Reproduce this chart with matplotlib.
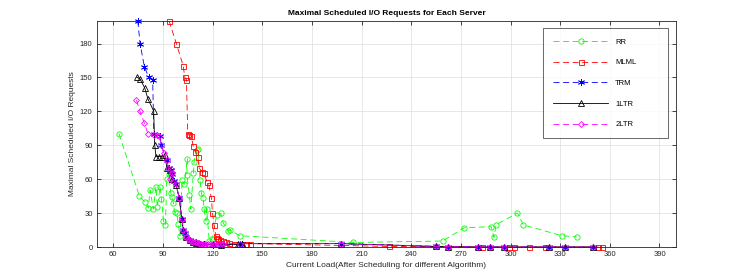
import matplotlib
matplotlib.use("Agg")
import matplotlib.pyplot as plt

plt.rcParams['font.family'] = ['Liberation Sans', 'DejaVu Sans']
plt.rcParams['lines.scale_dashes'] = False

rr_x = [63.5, 75.8, 79.2, 81.2, 82.2, 84.2, 85.8, 86.6, 88.3, 89.1, 90.3, 91.5, 92.3, 93.5, 94.7, 95.5,
        96.3, 97.0, 98.3, 99.3, 100.3, 101.5, 102.8, 104.8, 104.4, 106.0, 106.8, 108.4, 108.8, 110.4,
        111.2, 112.4, 113.2, 114.4, 114.8, 116.0, 116.4, 118.0, 119.5, 122.5, 124.9, 126.5, 129.5,
        130.5, 136.3, 205.0, 259.0, 272.0, 288.3, 290.0, 291.3, 304.2, 307.8, 331.0, 340.0]
rr_y = [100, 45, 39.5, 34.5, 50.5, 33.6, 53.5, 35.5, 53.4, 42.5, 23.3, 19.5, 60, 65, 48, 44,
        39, 31, 30, 20, 10, 59, 55.5, 78, 64, 46, 33.6, 65.2, 75.5, 85.8,
        86.7, 59.3, 47.5, 43, 34, 23.3, 34, 5, 7, 28.3, 29.8, 21, 14.4,
        15, 10, 4, 5.3, 17, 18, 8.6, 19.8, 30, 19.5, 10, 9]

mlml_x = [93.7, 98.1, 102.3, 103.2, 104.2, 105.0, 106.0, 107.2, 108.2, 109.6, 111.0, 112.0, 113.6,
          114.8, 116.5, 117.7, 119.3, 119.9, 120.9, 121.9, 122.5, 123.5, 124.5, 126.0, 128.0, 130.0,
          133.0, 137.0, 140.0, 142.7, 226.8, 283.0, 299.0, 302.0, 311.3, 321.0, 352.8, 355.2]
mlml_y = [200, 180, 160, 150, 148, 100, 98.8, 98, 89.5, 84.4, 80, 69.6, 66.7,
          65.2, 57.8, 54.9, 43, 30.4, 19.5, 9.7, 8, 7, 6, 5, 4, 3.5,
          3, 3, 2.8, 3, 0.5, 0, 0, 0, 0, 0, 0, 0]

trm_x = [74.8, 76.2, 78.8, 81.4, 83.8, 84.5, 88.3, 88.9, 92.3, 93.5, 95.0, 95.7, 96.7, 97.9, 99.9,
         101.4, 102.3, 103.2, 104.2, 106.2, 108.2, 110.2, 112.2, 115.0, 120.0, 125.0, 136.6, 137.6,
         197.7, 255.0, 262.0, 280.6, 287.7, 296.2, 323.0, 333.0, 350.0]
trm_y = [200, 179.6, 159.5, 150.2, 147.8, 100, 98, 90.3, 77, 70, 68, 65, 58, 55.5, 43,
         24.8, 15, 12, 9, 6, 4.7, 4, 3, 2.5, 2.2, 2, 2.5, 3,
         3, 0.5, 0.3, 0, 0, 0, 0, 0, 0]

ltr1_x = [74.2, 76.2, 79.0, 81.0, 84.4, 85.0, 85.8, 87.8, 89.3, 91.3, 92.3, 94.0, 95.7, 97.9, 99.9,
          101.4, 102.3, 104.2, 106.2, 108.2, 110.2, 112.2, 115.0, 120.0, 125.0, 135.6, 137.6,
          197.7, 255.0, 262.0, 280.6, 287.7, 296.2, 323.0, 333.0, 350.0]
ltr1_y = [150.2, 148.7, 140.7, 130.7, 120.4, 90.6, 80, 80, 80, 81.4, 70, 68, 60, 55, 43,
          25, 15, 9, 6, 4.7, 3.5, 2.8, 2.5, 2.3, 2, 2.5, 3,
          3, 0.5, 0.3, 0, 0, 0, 0, 0, 0]

ltr2_x = [74.0, 76.0, 78.8, 81.0, 84.8, 86.3, 87.8, 88.9, 90.5, 92.3, 93.3, 94.2, 95.0, 95.7, 96.7,
          97.9, 99.9, 101.4, 102.3, 103.2, 104.2, 105.2, 106.2, 107.2, 108.2, 109.2, 110.2, 111.2,
          112.2, 113.2, 114.0, 115.5, 117.0, 118.5, 120.0, 121.5, 123.0, 124.5, 126.0, 136.6,
          197.7, 255.0, 262.0, 280.6, 287.7, 296.2, 323.0, 333.0, 350.0]
ltr2_y = [130, 120.6, 109.5, 100, 98.9, 99, 98.2, 90.3, 83, 77, 70, 60, 68.8, 65.2, 57.8,
          55.5, 43, 24.8, 15, 12, 9, 7.5, 6.2, 5.5, 4.7, 4.3, 4, 3.5,
          3, 2.8, 2.5, 2.5, 2.5, 2.5, 2.5, 2.5, 2.5, 2.5, 2.5, 3,
          3, 0.5, 0.3, 0, 0, 0, 0, 0, 0]

x_ticks = list(range(60, 391, 30))
y_ticks = list(range(0, 181, 30))

fig = plt.figure(figsize=(7.47, 2.78), dpi=100)
ax = fig.add_axes([0.1295, 0.1115, 0.7755, 0.813])

dash = (0, (4.3, 2.6))
lw = 0.6
kw = dict(markerfacecolor='none', linewidth=lw, markeredgewidth=0.6, clip_on=False)
ax.plot(rr_x, rr_y, linestyle=dash, color='#00ff00', marker='o', markersize=3.8, label='RR', **kw)
ax.plot(mlml_x, mlml_y, linestyle=dash, color='#ff0000', marker='s', markersize=3.6, label='MLML', **kw)
ax.plot(trm_x, trm_y, linestyle=dash, color='#0000ff', marker=(6, 2, 0), markersize=5, label='TRM', **kw)
ax.plot(ltr1_x, ltr1_y, linestyle='-', color='#000000', marker='^', markersize=3.8, label='1LTR', **kw)
ax.plot(ltr2_x, ltr2_y, linestyle=dash, color='#ff00ff', marker='D', markersize=3.0, label='2LTR', **kw)

ax.set_xlim(50, 400)
ax.set_ylim(0, 200)
ax.set_xticks(x_ticks)
ax.set_yticks(y_ticks)
ax.grid(True, color='#e3e3e3', linewidth=0.6)
ax.set_axisbelow(True)
ax.tick_params(direction='in', top=True, right=True, length=3, width=0.6,
               labelsize=5.5, colors='#262626', pad=3)
for s in ax.spines.values():
    s.set_color('#262626')
    s.set_linewidth(0.6)

ax.set_title('Maximal Scheduled I/O Requests for Each Server', fontsize=6, fontweight='bold', pad=4)
ax.set_xlabel('Current Load(After Scheduling for different Algorithm)', fontsize=6, color='#262626', labelpad=3)
ax.set_ylabel('Maximal Scheduled I/O Requests', fontsize=6, color='#262626', labelpad=3)

leg = ax.legend(loc='upper left', bbox_to_anchor=(0.771, 0.4677, 0.2158, 0.5), mode='expand',
                fontsize=5.5, handlelength=7.2, numpoints=1, fancybox=False, frameon=True,
                borderpad=1.3, labelspacing=1.75, handletextpad=0.9, borderaxespad=0)
leg.get_frame().set_edgecolor('#262626')
leg.get_frame().set_linewidth(0.6)

fig.savefig('out.png', dpi=100)
